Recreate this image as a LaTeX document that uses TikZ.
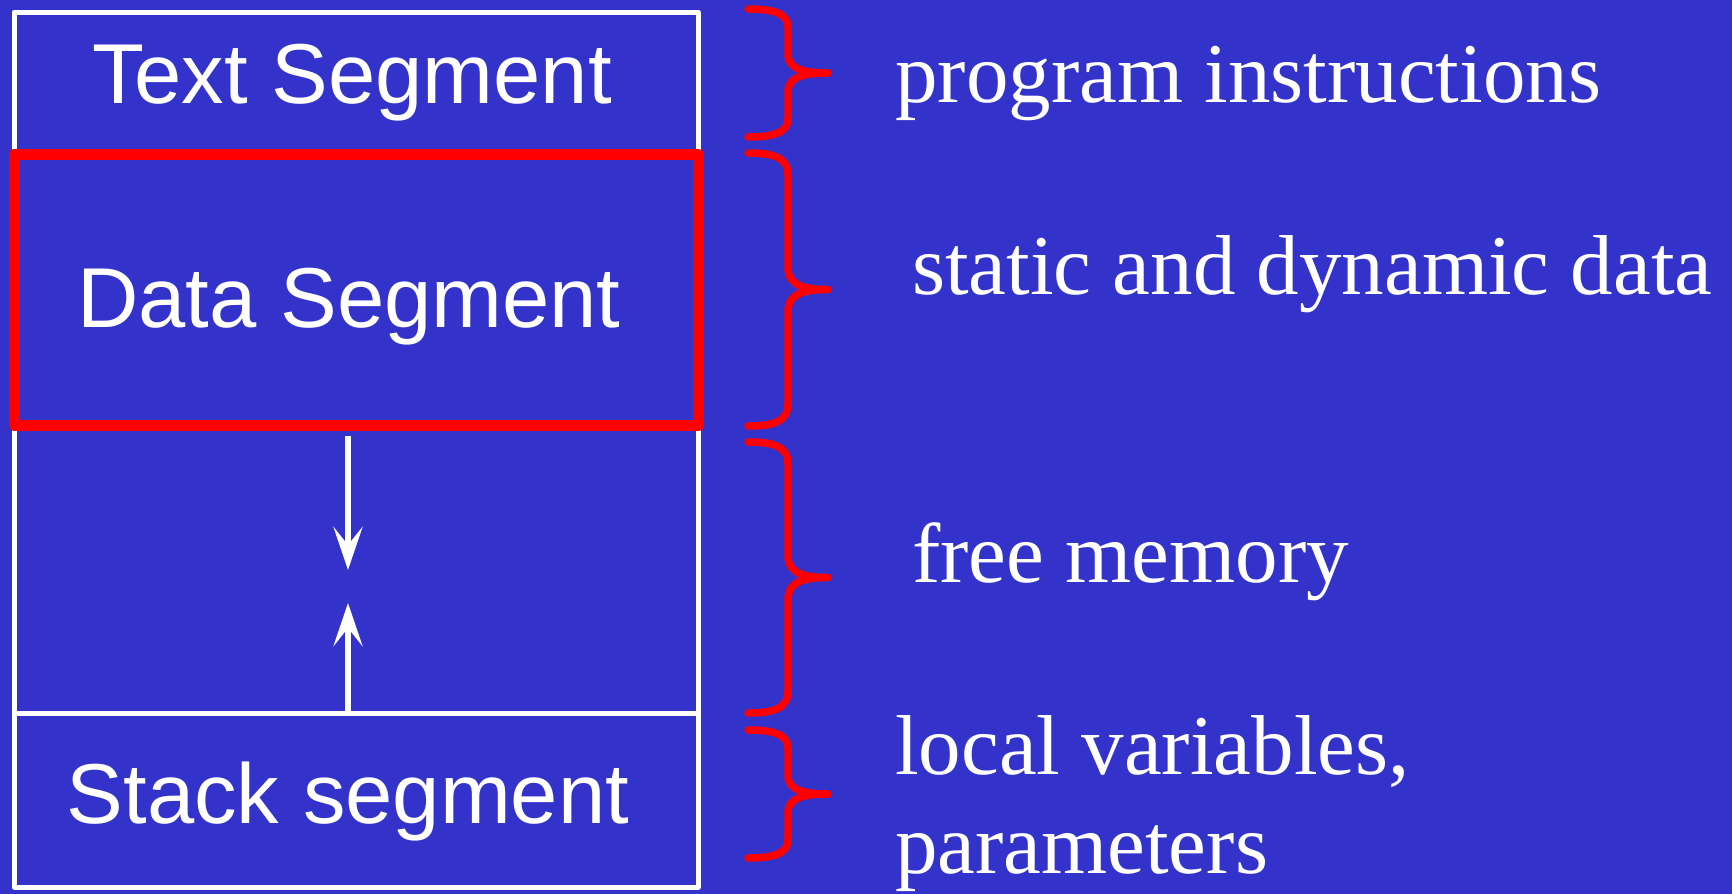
\documentclass[tikz,border=0pt]{standalone}
\usepackage{fontspec}
\setmainfont{Liberation Serif}
\setsansfont{Liberation Sans}
\usetikzlibrary{arrows.meta}
\definecolor{slideblue}{RGB}{51,51,204}
\newcommand{\membrace}[2]{%
  \pgfmathsetmacro{\bmid}{(#1+#2)/2}%
  \pgfmathsetmacro{\brad}{min(22,(#2-#1)/7)}%
  \draw[segbrace] (748,#1) .. controls (772,#1) and (788,#1+4) .. (788,#1+\brad)
    -- (788,\bmid-\brad) .. controls (788,\bmid-3) and (806,\bmid) .. (828,\bmid)
    .. controls (806,\bmid) and (788,\bmid+3) .. (788,\bmid+\brad)
    -- (788,#2-\brad) .. controls (788,#2-4) and (772,#2) .. (748,#2);}

\begin{document}
\begin{tikzpicture}[x=1pt,y=-1pt,
    segbox/.style={draw=white,line width=5pt,line join=round,minimum width=684pt,inner sep=0pt},
    hotbox/.style={draw=red,line width=11pt,line join=round,minimum width=684pt,inner sep=0pt},
    seglabel/.style={text=white,inner sep=0pt,anchor=base,font=\sffamily\fontsize{85}{99}\selectfont},
    usenote/.style={text=white,inner sep=0pt,anchor=base west,align=left,font=\fontsize{85}{99}\selectfont},
    growarrow/.style={draw=white,line width=6pt,-{Stealth[length=43pt,width=29pt,inset=18pt]}},
    segbrace/.style={draw=red,line width=7.5pt,line cap=round,line join=round}]
  \useasboundingbox (0,0) rectangle (1732,894);
  \fill[slideblue] (0,0) rectangle (1732,894);

  \node[segbox,minimum height=140pt] (textseg) at (356,82) {};
  \node[segbox,minimum height=561pt] (freemem) at (356,432.5) {};
  \node[segbox,minimum height=174pt] (stackseg) at (356,800) {};
  \node[hotbox,minimum height=271pt] (dataseg) at (356,289.5) {};

  \coordinate (heaptip) at (348,570);
  \coordinate (stacktip) at (348,603);
  \draw[growarrow,shorten <=5pt] (dataseg.south -| heaptip) -- (heaptip);
  \draw[growarrow] (stackseg.north -| stacktip) -- (stacktip);

  \node[seglabel] (textlbl) at (352,103) {Text Segment};
  \node[seglabel] (datalbl) at (349,327) {Data Segment};
  \node[seglabel] (stacklbl) at (348,823) {Stack segment};

  \membrace{9}{137}
  \membrace{153}{426}
  \membrace{442}{713}
  \membrace{730}{858}

  \node[usenote] (textuse) at (895,102) {program instructions};
  \node[usenote] (datause) at (912,294) {static and dynamic data};
  \node[usenote] (freeuse) at (912,582) {free memory};
  \node[usenote] (stackuse) at (895,873) {local variables,\\parameters};
\end{tikzpicture}
\end{document}
